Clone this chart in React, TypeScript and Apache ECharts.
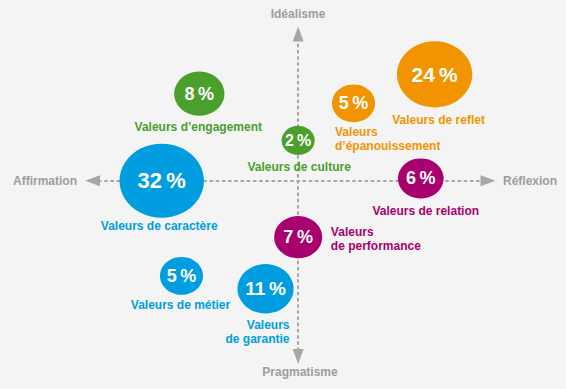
import React, { useEffect, useRef } from "react";
import * as echarts from "echarts";

// ---- data ----
const names = [
  "Valeurs d’engagement",
  "Valeurs de culture",
  "Valeurs\nd’épanouissement",
  "Valeurs de reflet",
  "Valeurs de caractère",
  "Valeurs de relation",
  "Valeurs\nde performance",
  "Valeurs de métier",
  "Valeurs\nde garantie",
];
const percents = [8, 2, 5, 24, 32, 6, 7, 5, 11];
// position on Affirmation (-) / Réflexion (+) axis
const xScores = [-0.5, 0.0, 0.28, 0.69, -0.69, 0.62, 0.0, -0.59, -0.165];
// position on Pragmatisme (-) / Idéalisme (+) axis
const yScores = [0.54, 0.25, 0.48, 0.66, 0.0, 0.014, -0.35, -0.59, -0.67];
// family: 0 green, 1 orange, 2 blue, 3 purple
const families = [0, 0, 1, 1, 2, 3, 3, 2, 2];
const axisNames = { top: "Idéalisme", bottom: "Pragmatisme", left: "Affirmation", right: "Réflexion" };

// ---- styles ----
const palette = ["#4a9f2d", "#f29400", "#009ee0", "#a8006e"];
const nameLayout: { offset: [number, number]; align: string }[] = [
  { offset: [-1, 33.5], align: "center" },
  { offset: [1, 27], align: "center" },
  { offset: [-18.5, 36], align: "left" },
  { offset: [4, 46], align: "center" },
  { offset: [-2.5, 45.5], align: "center" },
  { offset: [5, 33], align: "center" },
  { offset: [32.7, 1.5], align: "left" },
  { offset: [-1, 29.5], align: "center" },
  { offset: [24, 43], align: "right" },
];
const FONT = "'Liberation Sans', Arial, Helvetica, sans-serif";
const GREY = "#9d9d9d";

const diameter = (v: number) => 15 + 11.3 * Math.sqrt(v);

export default function App() {
  const ref = useRef<HTMLDivElement>(null);
  useEffect(() => {
    if (!ref.current) return;
    const chart = echarts.init(ref.current, null, { renderer: "svg" });

    const bubbleData = percents.map((p, i) => {
      const d = diameter(p);
      return {
        value: [xScores[i], yScores[i], p],
        symbolSize: [d * 1.07, d * 0.94],
        itemStyle: { color: palette[families[i]], opacity: 1 },
        label: { fontSize: Math.round(12.5 + 0.125 * d) },
      };
    });
    const nameData = names.map((n, i) => ({
      value: [xScores[i], yScores[i], percents[i]],
      name: n,
      label: {
        color: palette[families[i]],
        offset: nameLayout[i].offset,
        align: nameLayout[i].align,
      },
    }));

    const axisLine = {
      show: true,
      onZero: true,
      symbol: ["triangle", "triangle"],
      symbolSize: [11, 15],
      lineStyle: { color: "#a6a6a6", width: 2, type: [2, 4.2] },
    };

    const textStyle = (text: string, x: number, y: number, align: string) => ({
      type: "text",
      z: 10,
      style: { text, fill: GREY, font: `bold 12px ${FONT}`, x, y, align, verticalAlign: "middle" },
    });

    chart.setOption({
      animation: false,
      backgroundColor: "#f4f4f4",
      grid: { left: 92.5, right: 78, top: 34, bottom: 32.5 },
      xAxis: {
        type: "value",
        min: -1.04,
        max: 0.96,
        axisLine,
        axisTick: { show: false },
        axisLabel: { show: false },
        splitLine: { show: false },
      },
      yAxis: {
        type: "value",
        min: -1.09,
        max: 0.91,
        axisLine,
        axisTick: { show: false },
        axisLabel: { show: false },
        splitLine: { show: false },
      },
      graphic: [
        textStyle(axisNames.top, 298, 14, "center"),
        textStyle(axisNames.bottom, 300, 372, "center"),
        textStyle(axisNames.left, 13, 180.5, "left"),
        textStyle(axisNames.right, 503, 180.5, "left"),
      ],
      series: [
        {
          type: "scatter",
          data: bubbleData,
          z: 3,
          label: {
            show: true,
            position: "inside",
            color: "#ffffff",
            fontWeight: "bold",
            fontFamily: FONT,
            formatter: (p: any) => `${p.value[2]}\u2009%`,
          },
          emphasis: { disabled: true },
        },
        {
          type: "scatter",
          data: nameData,
          symbolSize: 1,
          itemStyle: { color: "rgba(0,0,0,0)", opacity: 1 },
          z: 4,
          label: {
            show: true,
            position: "inside",
            fontWeight: "bold",
            fontSize: 12,
            lineHeight: 14,
            fontFamily: FONT,
            verticalAlign: "middle",
            opacity: 1,
            formatter: (p: any) => p.name,
          },
          emphasis: { disabled: true },
        },
      ],
    });
    return () => chart.dispose();
  }, []);
  return (
    <div
      ref={ref}
      style={{ position: "fixed", left: 0, top: 0, width: 566, height: 389, background: "#f4f4f4" }}
    />
  );
}
